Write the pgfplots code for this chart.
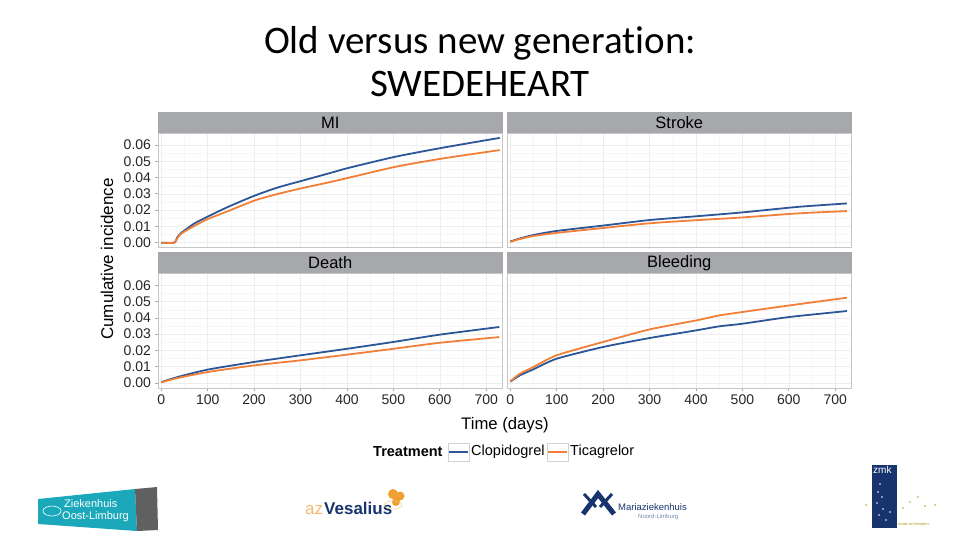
\documentclass[border=0pt]{standalone}
\usepackage{fontspec}
\setmainfont{Liberation Sans}
\newfontfamily\calibri[Ligatures=NoCommon]{Carlito}
\usepackage{pgfplots}
\usepackage{pgfplotstable}
\pgfplotsset{compat=1.18}

\definecolor{clopblue}{RGB}{44,86,152}
\definecolor{ticaorange}{RGB}{241,127,56}
\definecolor{stripgray}{RGB}{166,168,171}
\definecolor{zolteal}{RGB}{26,168,186}
\definecolor{navy}{RGB}{24,52,110}
\definecolor{vesorange}{RGB}{240,160,50}

% cumulative incidence: time (days), clopidogrel, ticagrelor
\pgfplotstableread{
t    clop    tica
0    0.0000  0.0000
28   0.0000  0.0000
35   0.0035  0.0030
43   0.0060  0.0055
50   0.0075  0.0068
72   0.0119  0.0104
100  0.0160  0.0145
144  0.0220  0.0194
202  0.0290  0.0260
252  0.0340  0.0300
300  0.0378  0.0333
360  0.0425  0.0370
404  0.0460  0.0399
504  0.0528  0.0466
605  0.0583  0.0517
729  0.0644  0.0569
}\mi

\pgfplotstableread{
t    clop    tica
0    0.0007  0.0005
20   0.0025  0.0022
50   0.0047  0.0041
100  0.0072  0.0060
200  0.0105  0.0090
300  0.0139  0.0119
400  0.0162  0.0138
500  0.0186  0.0155
620  0.0220  0.0180
725  0.0241  0.0194
}\stroke

\pgfplotstableread{
t    clop    tica
0    0.0005  0.0004
36   0.0037  0.0031
100  0.0082  0.0067
200  0.0129  0.0108
300  0.0170  0.0139
400  0.0210  0.0174
500  0.0252  0.0210
600  0.0297  0.0247
728  0.0344  0.0282
}\death

\pgfplotstableread{
t    clop    tica
0    0.0008  0.0010
21   0.0047  0.0057
50   0.0084  0.0098
100  0.0149  0.0170
200  0.0221  0.0252
300  0.0276  0.0329
400  0.0323  0.0384
450  0.0348  0.0415
500  0.0364  0.0436
600  0.0405  0.0476
725  0.0442  0.0524
}\bleeding

\pgfplotsset{
  facet/.style={
    scale only axis, width=344.5pt, height=114.7pt,
    xmin=-7, xmax=735, ymin=-0.0031, ymax=0.0674,
    xtick={0,100,200,300,400,500,600,700},
    ytick={0,0.01,0.02,0.03,0.04,0.05,0.06},
    scaled y ticks=false,
    minor x tick num=1, minor y tick num=1,
    grid=both,
    major grid style={gray!14, line width=0.5pt},
    minor grid style={gray!7, line width=0.4pt},
    axis line style={gray!45, line width=0.7pt},
    tick align=outside, major tick length=3.5pt, minor tick length=0pt,
    tick style={gray!65, line width=0.7pt},
    xtick pos=bottom, ytick pos=left,
    ticklabel style={font=\fontsize{14}{14}\selectfont, text=black!85},
    /pgf/number format/assume math mode=true,
    yticklabel style={/pgf/number format/fixed, /pgf/number format/fixed zerofill,
      /pgf/number format/precision=2},
    every axis title/.style={at={(0.5,1)}, anchor=south, fill=stripgray, draw=none,
      minimum width=344.5pt, minimum height=21pt, inner sep=0pt, outer sep=0pt,
      font=\fontsize{16.5}{17}\selectfont},
  },
  top/.style={xticklabels={}, xtick style={draw=none}},
  right/.style={yticklabels={}, ytick style={draw=none}},
  clop/.style={clopblue, line width=1.8pt, smooth, tension=0.4},
  tica/.style={ticaorange, line width=1.8pt, smooth, tension=0.4},
}

\begin{document}
\begin{tikzpicture}
\path[use as bounding box] (0,0) rectangle (960pt,-540pt);

% title
\node[anchor=base, font=\calibri\fontsize{39}{40}\selectfont] at (480pt,-53.5pt) {Old versus new generation:};
\node[anchor=base, font=\calibri\fontsize{39}{40}\selectfont] at (480pt,-96.5pt) {SWEDEHEART};

\begin{axis}[facet, top, at={(158pt,-133pt)}, anchor=north west, title={MI}]
  \addplot[clop] table[x=t, y=clop] {\mi};
  \addplot[tica] table[x=t, y=tica] {\mi};
\end{axis}

\begin{axis}[facet, top, right, at={(507pt,-133pt)}, anchor=north west, title={Stroke}]
  \addplot[clop] table[x=t, y=clop] {\stroke};
  \addplot[tica] table[x=t, y=tica] {\stroke};
\end{axis}

\begin{axis}[facet, at={(158pt,-273.3pt)}, anchor=north west, title={Death}]
  \addplot[clop] table[x=t, y=clop] {\death};
  \addplot[tica] table[x=t, y=tica] {\death};
\end{axis}

\begin{axis}[facet, right, at={(507pt,-273.3pt)}, anchor=north west, title={Bleeding}]
  \addplot[clop] table[x=t, y=clop] {\bleeding};
  \addplot[tica] table[x=t, y=tica] {\bleeding};
\end{axis}

% shared axis labels
\node[rotate=90, font=\fontsize{17}{17}\selectfont] at (107pt,-259pt) {Cumulative incidence};
\node[font=\fontsize{16.7}{17}\selectfont] at (505pt,-425pt) {Time (days)};

% legend
\node[anchor=west, inner sep=0pt, font=\bfseries\fontsize{14.5}{15}\selectfont] at (373pt,-452pt) {Treatment};
\draw[gray!35, fill=white, line width=0.5pt] (448pt,-443pt) rectangle (469pt,-461pt);
\draw[clopblue, line width=1.7pt] (449pt,-452pt) -- (468pt,-452pt);
\node[anchor=west, inner sep=0pt, font=\fontsize{14.5}{15}\selectfont] at (471pt,-452pt) {Clopidogrel};
\draw[gray!35, fill=white, line width=0.5pt] (547pt,-443pt) rectangle (568pt,-461pt);
\draw[ticaorange, line width=1.7pt] (548pt,-452pt) -- (567pt,-452pt);
\node[anchor=west, inner sep=0pt, font=\fontsize{14.5}{15}\selectfont] at (570pt,-452pt) {Ticagrelor};

% logos along the foot of the slide
\fill[zolteal] (38pt,-499pt) -- (135pt,-489pt) -- (137pt,-531pt) -- (38pt,-524pt) -- cycle;
\fill[gray!75!black] (135pt,-489pt) -- (157pt,-487pt) -- (158pt,-530pt) -- (137pt,-531pt) -- cycle;
\draw[white, line width=0.6pt] (52pt,-511pt) ellipse (9pt and 5pt);
\node[anchor=west, inner sep=0pt, text=white, font=\fontsize{11}{11}\selectfont] at (64pt,-504pt) {Ziekenhuis};
\node[anchor=west, inner sep=0pt, text=white, font=\fontsize{11}{11}\selectfont] at (62pt,-517pt) {Oost-Limburg};

\node[anchor=base west, inner sep=0pt, text=vesorange!70, font=\fontsize{17}{17}\selectfont] at (305pt,-514pt) {az};
\node[anchor=base west, inner sep=0pt, text=navy, font=\bfseries\fontsize{17}{17}\selectfont] at (324pt,-514pt) {Vesalius};
\fill[vesorange] (393pt,-494pt) circle (5pt) (400pt,-496pt) circle (4.5pt) (396pt,-502pt) circle (4pt);
\draw[vesorange!60, line width=0.5pt] (393pt,-505pt) ellipse (9pt and 4pt);

\draw[navy, line width=5pt] (583pt,-514pt) -- (598pt,-494pt) -- (614pt,-514pt);
\draw[navy, line width=3pt] (584pt,-494pt) -- (596pt,-507pt) (600pt,-507pt) -- (612pt,-494pt);
\node[anchor=base west, inner sep=0pt, text=navy, font=\fontsize{9.5}{10}\selectfont] at (618pt,-510pt) {Mariaziekenhuis};
\node[anchor=base west, inner sep=0pt, text=navy!60, font=\fontsize{6}{6}\selectfont] at (638pt,-518pt) {Noord-Limburg};

\fill[navy] (872pt,-465pt) rectangle (897pt,-528pt);
\node[anchor=north west, inner sep=0pt, text=white, font=\fontsize{10}{10}\selectfont] at (873pt,-466pt) {zmk};
\foreach \p in {(880pt,-484pt),(878pt,-492pt),(882pt,-497pt),(877pt,-503pt),(883pt,-509pt),(879pt,-515pt),(886pt,-520pt),(890pt,-512pt)}
  \fill[white] \p circle (0.8pt);
\foreach \p in {(866pt,-505pt),(903pt,-508pt),(910pt,-502pt),(918pt,-497pt),(925pt,-506pt),(935pt,-505pt)}
  \fill[olive!70] \p circle (0.8pt);
\node[anchor=west, inner sep=0pt, text=olive!80, font=\fontsize{4}{4}\selectfont] at (898pt,-524pt) {maas en kempen};
\end{tikzpicture}
\end{document}
